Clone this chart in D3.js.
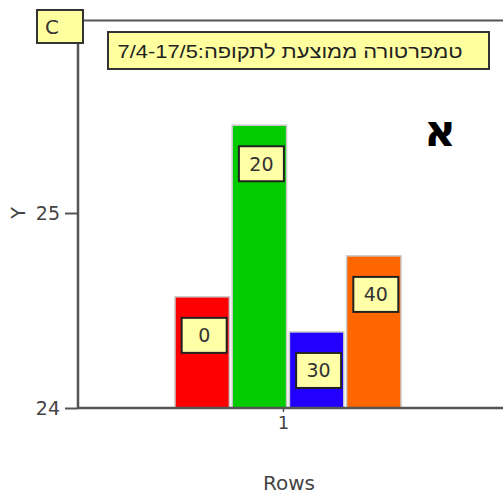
<!DOCTYPE html>
<html>
<head>
<meta charset="utf-8">
<script src="https://cdn.jsdelivr.net/npm/d3@7"></script>
<style>
  html, body { margin: 0; padding: 0; background: #fff; }
  svg { display: block; font-family: "DejaVu Sans", Verdana, sans-serif; }
</style>
</head>
<body>
<svg id="chart" width="503" height="497"></svg>
<script>
// Average temperature per row group, period 7/4-17/5
const categories = ["1"];
const seriesNames = ["0", "20", "30", "40"];
const seriesValues = [24.57, 25.45, 24.39, 24.78];
const seriesColors = ["#ff0000", "#00cc00", "#2200ff", "#ff6600"];
const yTicks = [24, 25];
const chartTitle = "טמפרטורה ממוצעת לתקופה:7/4-17/5";
const panelTag = "C";
const cornerMark = "א";
const xTitle = "Rows";
const yTitle = "Y";

const FONT = "DejaVu Sans, Verdana, sans-serif";
const svg = d3.select("#chart");
const plotLeft = 78, plotRight = 503, plotTop = 20, plotBottom = 408;

const y = d3.scaleLinear().domain([24, 25]).range([plotBottom, 213]);
const x0 = d3.scaleBand().domain(categories).range([plotLeft, plotRight]).paddingInner(0).paddingOuter(0);
const x1 = d3.scaleBand().domain(seriesNames)
  .range([175, 401]).paddingInner(0.05).paddingOuter(0);

// bars
const g = svg.append("g");
categories.forEach(cat => {
  seriesNames.forEach((s, i) => {
    const v = seriesValues[i];
    const bx = x1(s), bw = x1.bandwidth();
    g.append("rect")
      .attr("x", bx).attr("y", y(v))
      .attr("width", bw).attr("height", y(24) - y(v))
      .attr("fill", seriesColors[i])
      .attr("stroke", "#c8c8c8").attr("stroke-width", 1.5);
  });
});

// series tags inside bars
seriesNames.forEach((s, i) => {
  const v = seriesValues[i];
  const cx = x1(s) + x1.bandwidth() / 2 + 2;
  const by = y(v) + 21;
  const w = 45, h = 35;
  g.append("rect")
    .attr("x", cx - w / 2).attr("y", by)
    .attr("width", w).attr("height", h)
    .attr("fill", "#ffffa8").attr("stroke", "#222").attr("stroke-width", 2);
  g.append("text")
    .attr("x", cx).attr("y", by + h / 2 + 7)
    .attr("text-anchor", "middle").attr("font-family", FONT)
    .attr("font-size", 19).attr("fill", "#333")
    .text(s);
});

// frame: top line and axes
svg.append("line").attr("x1", 83).attr("x2", plotRight).attr("y1", plotTop + 0.5).attr("y2", plotTop + 0.5)
  .attr("stroke", "#555").attr("stroke-width", 2);

const yAxis = d3.axisLeft(y).tickValues(yTicks).tickSize(13).tickPadding(5).tickFormat(d3.format("d"));
const ya = svg.append("g").attr("transform", `translate(${plotLeft},0)`).call(yAxis);
ya.select(".domain").remove();
ya.selectAll(".tick line").attr("stroke", "#555").attr("stroke-width", 2);
ya.selectAll(".tick text").attr("font-size", 19).attr("fill", "#444").attr("font-family", FONT);
svg.append("line").attr("x1", plotLeft).attr("x2", plotLeft).attr("y1", 42).attr("y2", plotBottom + 1)
  .attr("stroke", "#555").attr("stroke-width", 2.5);

const xAxis = d3.axisBottom(x0).tickSize(4).tickPadding(4);
const xa = svg.append("g").attr("transform", `translate(0,${plotBottom})`).call(xAxis);
xa.select(".domain").remove();
xa.selectAll(".tick line").attr("stroke", "#555").attr("stroke-width", 1.5)
  .attr("transform", "translate(-7,0)");
xa.selectAll(".tick text").attr("font-size", 18).attr("fill", "#444").attr("font-family", FONT)
  .attr("transform", "translate(-7,0)");
svg.append("line").attr("x1", plotLeft).attr("x2", plotRight).attr("y1", plotBottom).attr("y2", plotBottom)
  .attr("stroke", "#555").attr("stroke-width", 2.5);

// axis titles
svg.append("text").attr("transform", "translate(25,213) rotate(-90)")
  .attr("text-anchor", "middle").attr("font-size", 19).attr("fill", "#444").text(yTitle);
svg.append("text").attr("x", 289).attr("y", 490)
  .attr("text-anchor", "middle").attr("font-size", 20).attr("fill", "#444").text(xTitle);

// panel tag
svg.append("rect").attr("x", 37).attr("y", 10).attr("width", 46).attr("height", 33)
  .attr("fill", "#ffffa0").attr("stroke", "#333").attr("stroke-width", 2);
svg.append("text").attr("x", 45).attr("y", 34).attr("font-size", 20).attr("fill", "#333").text(panelTag);

// title box
svg.append("rect").attr("x", 108).attr("y", 32).attr("width", 381).attr("height", 37)
  .attr("fill", "#ffffa0").attr("stroke", "#333").attr("stroke-width", 2);
svg.append("text").attr("x", 290).attr("y", 58)
  .attr("text-anchor", "middle").attr("direction", "rtl")
  .attr("textLength", 345).attr("lengthAdjust", "spacingAndGlyphs")
  .attr("font-family", "Liberation Sans, Arial, sans-serif")
  .attr("font-size", 19).attr("fill", "#222").text(chartTitle);

// corner mark
svg.append("text").attr("x", 440).attr("y", 146)
  .attr("text-anchor", "middle").attr("font-family", FONT)
  .attr("font-size", 44).attr("font-weight", "bold")
  .attr("fill", "#000").text(cornerMark);
</script>
</body>
</html>
